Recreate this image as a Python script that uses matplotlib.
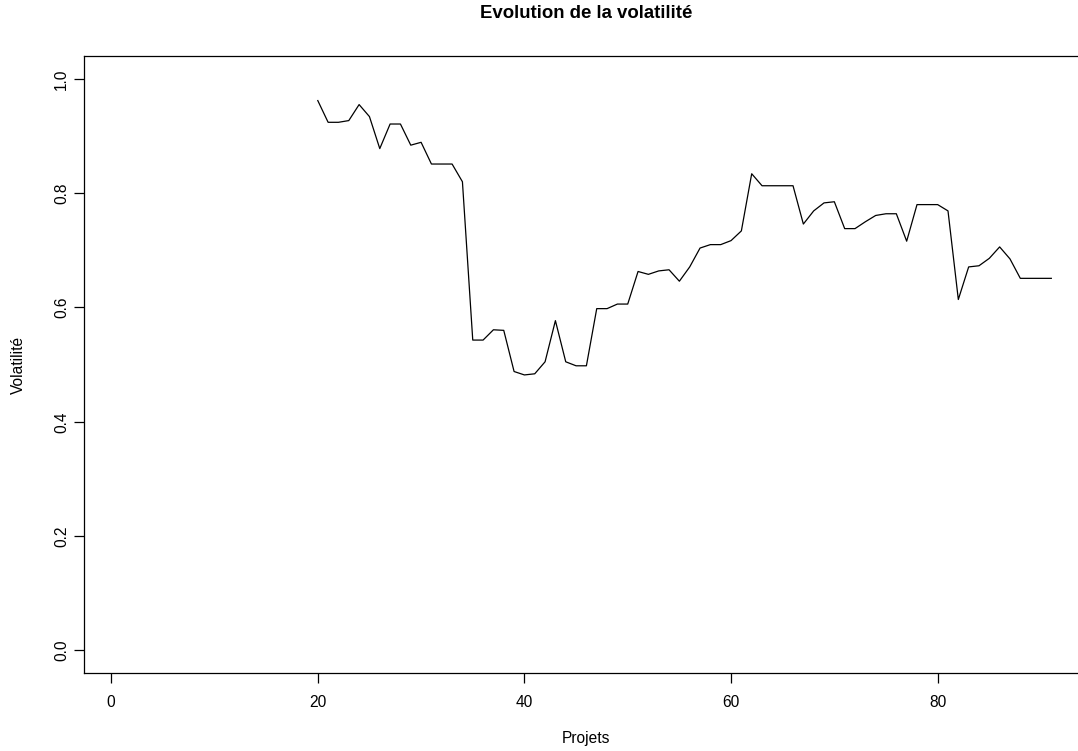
import matplotlib
matplotlib.use('Agg')
import numpy as np
import matplotlib.pyplot as plt

plt.rcParams['font.family'] = ['Liberation Sans', 'DejaVu Sans']

# Projects 1..91, volatility only defined from project 20 (rolling window)
projets = list(range(20, 92))
volatilite = [
    0.962, 0.924, 0.924, 0.927, 0.955, 0.934, 0.878, 0.921, 0.921, 0.884,
    0.889, 0.851, 0.851, 0.851, 0.820, 0.543, 0.543, 0.561, 0.560, 0.488,
    0.482, 0.484, 0.505, 0.577, 0.505, 0.498, 0.498, 0.598, 0.598, 0.606,
    0.606, 0.663, 0.658, 0.664, 0.666, 0.646, 0.671, 0.704, 0.710, 0.710,
    0.717, 0.734, 0.834, 0.813, 0.813, 0.813, 0.813, 0.746, 0.769, 0.783,
    0.785, 0.738, 0.738, 0.750, 0.761, 0.764, 0.764, 0.716, 0.780, 0.780,
    0.780, 0.769, 0.614, 0.671, 0.673, 0.686, 0.706, 0.685, 0.651, 0.651,
    0.651, 0.651,
]
x_ticks = [0, 20, 40, 60, 80]
y_ticks = [0.0, 0.2, 0.4, 0.6, 0.8, 1.0]

W, H = 1078, 751
fig = plt.figure(figsize=(W / 100, H / 100), dpi=100)
# plot region (R-style), right edge runs past the image
left, right, top, bottom = 84.3, 1088.5, 56.0, 673.3
ax = fig.add_axes([left / W, 1 - bottom / H, (right - left) / W, (bottom - top) / H])

ax.plot(projets, volatilite, color='black', linewidth=0.9)
ax.set_xlim(-2.6, 94.6)
ax.set_ylim(-0.04, 1.04)

ax.set_xticks(x_ticks)
ax.set_xticklabels([str(v) for v in x_ticks])
ax.set_yticks(y_ticks)
ax.set_yticklabels([f'{v:.1f}' for v in y_ticks], rotation=90, va='center')

for s in ax.spines.values():
    s.set_linewidth(0.9)
    s.set_color('black')
ax.tick_params(direction='out', length=7, width=0.9, labelsize=11.2,
               colors='black')
ax.tick_params(axis='x', pad=8.5)
ax.tick_params(axis='y', pad=4)

fig.text(586 / W, 1 - 13 / H, 'Evolution de la volatilité', ha='center', va='center',
         fontsize=13.4, fontweight='bold')
fig.text(586 / W, 1 - 743 / H, 'Projets', ha='center', va='baseline', fontsize=11.2)
fig.text(18.5 / W, 1 - 365 / H, 'Volatilité', ha='center', va='center',
         rotation=90, fontsize=11.2)

fig.savefig('out.png', dpi=100)
